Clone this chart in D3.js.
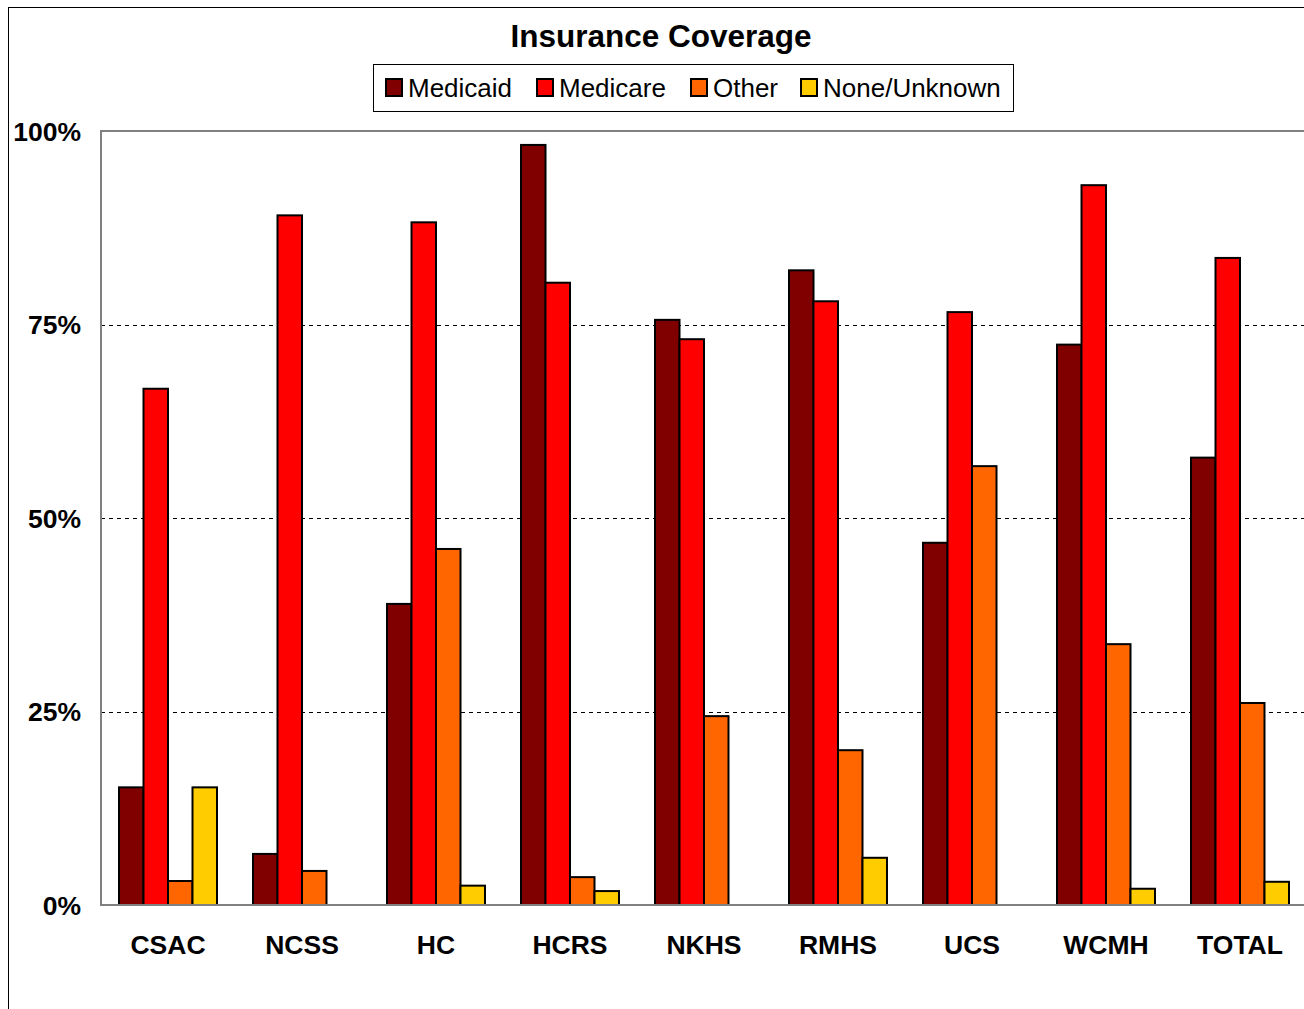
<!DOCTYPE html>
<html><head><meta charset="utf-8">
<script src="https://cdn.jsdelivr.net/npm/d3@7/dist/d3.min.js"></script>
<style>body{margin:0;background:#fff}svg{display:block;font-family:"Liberation Sans",Arial,sans-serif}</style>
</head><body><svg id="c" width="1304" height="1009"></svg>
<script>
const categories = ["CSAC","NCSS","HC","HCRS","NKHS","RMHS","UCS","WCMH","TOTAL"];
const seriesNames = ["Medicaid","Medicare","Other","None/Unknown"];
const medicaid = [15.2, 6.6, 38.9, 98.2, 75.6, 82.0, 46.8, 72.4, 57.8];
const medicare = [66.7, 89.1, 88.2, 80.4, 73.1, 78.0, 76.6, 93.0, 83.6];
const other    = [3.1, 4.4, 46.0, 3.6, 24.4, 20.0, 56.7, 33.7, 26.1];
const none     = [15.2, 0, 2.5, 1.8, 0, 6.1, 0, 2.1, 3.0];
const yTicks = [0, 25, 50, 75, 100];
const colors = ["#800000","#FF0000","#FF6600","#FFCC00"];
const series = [medicaid, medicare, other, none];

const svg = d3.select("#c");
// outer frame
svg.append("rect").attr("x",8.5).attr("y",7.5).attr("width",1400).attr("height",1100)
  .attr("fill","none").attr("stroke","#000").attr("stroke-width",1);

const L=101, T=131, B=905, R=1307;
const x = d3.scaleBand().domain(categories).range([L,R]).paddingInner(0).paddingOuter(0);
const xs = d3.scaleBand().domain(d3.range(4)).range([0,x.bandwidth()]).paddingOuter(0.735).paddingInner(0);
const y = d3.scaleLinear().domain([0,100]).range([B,T]);

// gridlines
svg.append("g").selectAll("line").data(yTicks.filter(d=>d>0&&d<100)).join("line")
  .attr("x1",L).attr("x2",R).attr("y1",d=>Math.round(y(d))+0.5).attr("y2",d=>Math.round(y(d))+0.5)
  .attr("stroke","#000").attr("stroke-width",1).attr("stroke-dasharray","4,4");

// plot border
svg.append("rect").attr("x",L).attr("y",T).attr("width",R-L+5).attr("height",B-T)
  .attr("fill","none").attr("stroke","#808080").attr("stroke-width",2);

// bars
series.forEach((vals,si)=>{
  svg.append("g").selectAll("rect").data(vals.map((v,i)=>({c:categories[i],v})).filter(d=>d.v>0)).join("rect")
    .attr("x",d=>x(d.c)+xs(si)).attr("width",xs.bandwidth())
    .attr("y",d=>y(d.v)).attr("height",d=>B-y(d.v))
    .attr("fill",colors[si]).attr("stroke","#000").attr("stroke-width",2);
});

// baseline
svg.append("line").attr("x1",L).attr("x2",R).attr("y1",B).attr("y2",B).attr("stroke","#808080").attr("stroke-width",2);

// y axis labels
const yAxis = d3.axisLeft(y).tickValues(yTicks).tickFormat(d=>d+"%").tickSize(0).tickPadding(20);
const ga = svg.append("g").attr("transform",`translate(${L},0)`).call(yAxis);
ga.select(".domain").remove();
ga.selectAll("text").attr("font-size",26.5).attr("font-weight","bold").attr("fill","#000")
  .attr("font-family","Liberation Sans, Arial, sans-serif").attr("dy","0.35em");

// x axis labels
const xAxis = d3.axisBottom(x).tickSize(0).tickPadding(30);
const gx = svg.append("g").attr("transform",`translate(0,${B})`).call(xAxis);
gx.select(".domain").remove();
gx.selectAll("text").attr("font-size",26.5).attr("font-weight","bold").attr("fill","#000")
  .attr("font-family","Liberation Sans, Arial, sans-serif");

// title
svg.append("text").attr("x",661).attr("y",47).attr("text-anchor","middle")
  .attr("font-size",31.5).attr("font-weight","bold").text("Insurance Coverage");

// legend
svg.append("rect").attr("x",373.5).attr("y",64.5).attr("width",640).attr("height",47)
  .attr("fill","#fff").attr("stroke","#000").attr("stroke-width",1);
const legX = [386, 537, 691, 801];
seriesNames.forEach((n,i)=>{
  svg.append("rect").attr("x",legX[i]).attr("y",79).attr("width",16).attr("height",17)
    .attr("fill",colors[i]).attr("stroke","#000").attr("stroke-width",2);
  svg.append("text").attr("x",legX[i]+22).attr("y",97).attr("font-size",26).text(n);
});
</script></body></html>
